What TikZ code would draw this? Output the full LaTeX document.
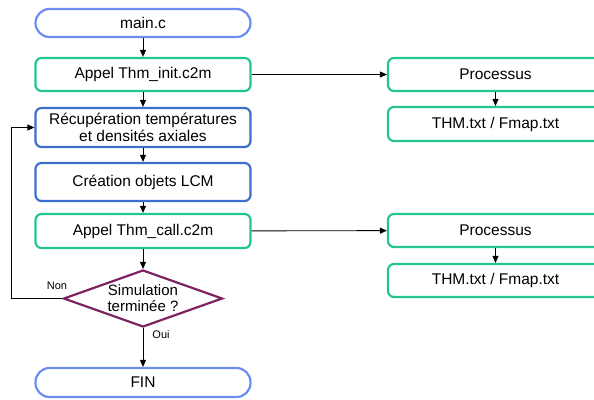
\documentclass[tikz,border=0pt]{standalone}
\usepackage{fontspec}
\setmainfont{Liberation Sans}
\usetikzlibrary{arrows.meta,positioning,shapes.geometric}
\definecolor{termblue}{HTML}{6D8DF0}
\definecolor{procblue}{HTML}{3C6FCB}
\definecolor{callgreen}{HTML}{22C68C}
\definecolor{testpurple}{HTML}{7D2260}

\begin{document}
\begin{tikzpicture}[
      x=1pt,y=-1pt,
      base/.style={draw,line width=2.2pt,minimum width=215pt,minimum height=33pt,
                   inner sep=2pt,align=center,font=\fontsize{15.5}{17.5}\selectfont},
      term/.style={base,draw=termblue,rounded corners=14pt,minimum height=28pt},
      proc/.style={base,draw=procblue,rounded corners=6pt,minimum height=38pt},
      call/.style={base,draw=callgreen,rounded corners=6pt},
      test/.style={diamond,draw=testpurple,line width=2.2pt,aspect=2.7,
                   minimum width=159pt,minimum height=57pt,inner sep=0pt,
                   align=center,font=\fontsize{15}{16}\selectfont},
      lbl/.style={font=\fontsize{11}{13}\selectfont,inner sep=1pt},
      arr/.style={-{Triangle[length=7pt,width=6pt]},line width=0.9pt},
    ]
    \useasboundingbox (0,0) rectangle (594,399);
    \clip (0,0) rectangle (594,399);

    % main column
    \node[term] (main) at (143,23) {main.c};
    \node[call] (init) at (143,74.5) {Appel Thm\_init.c2m};
    \node[proc,minimum height=39pt] (recup) at (143,127.5)
          {Récupération températures\\et densités axiales};
    \node[proc] (lcm) at (143,182) {Création objets LCM};
    \node[call,minimum height=34pt] (callc) at (143,231) {Appel Thm\_call.c2m};
    \node[test] (fini) at (143,298.5) {Simulation\\terminée ?};
    \node[term,minimum height=29pt] (fin) at (143,382.5) {FIN};

    % side processes
    \node[call] (proc1) at (495.5,74.5) {Processus};
    \node[call,minimum height=34pt] (thm1) at (495.5,124) {THM.txt / Fmap.txt};
    \node[call] (proc2) at (495.5,230.5) {Processus};
    \node[call] (thm2) at (495.5,280.5) {THM.txt / Fmap.txt};

    \draw[arr] (main)--(init);
    \draw[arr] (init)--(recup);
    \draw[arr] (recup)--(lcm);
    \draw[arr] (lcm)--(callc);
    \draw[arr] (callc)--(fini);
    \draw[arr] (fini)--(fin);

    \draw[arr] (init)--(proc1);
    \draw[arr] (proc1)--(thm1);
    \draw[arr] (callc)--(proc2);
    \draw[arr] (proc2)--(thm2);

    % loop back
    \draw[arr] (fini.west) -- ++(-51,0) |- (recup.west);
    \node[lbl] (non) at (57,286) {Non};
    \node[lbl] (oui) at (161,335) {Oui};
  \end{tikzpicture}
\end{document}
